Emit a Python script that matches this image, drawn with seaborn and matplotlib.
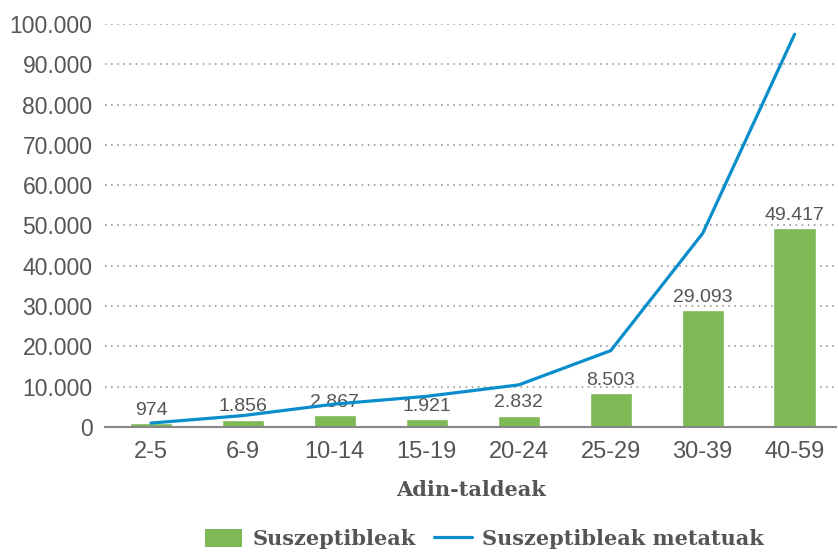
import matplotlib
matplotlib.use("Agg")
import matplotlib.pyplot as plt
import seaborn as sns
import pandas as pd
from matplotlib.patches import Patch
from matplotlib.lines import Line2D
from matplotlib.ticker import FuncFormatter, MultipleLocator

categories = ["2-5", "6-9", "10-14", "15-19", "20-24", "25-29", "30-39", "40-59"]
suszeptibleak = [974, 1856, 2867, 1921, 2832, 8503, 29093, 49417]
metatuak = [974, 2830, 5697, 7618, 10450, 18953, 48046, 97463]

GREEN = "#7db954"
BLUE = "#0a8dcb"
GREY = "#555555"

sns.set_style("white")
plt.rcParams["font.family"] = ["Liberation Sans", "DejaVu Sans"]

df = pd.DataFrame({"cat": categories, "sus": suszeptibleak, "met": metatuak})

fig = plt.figure(figsize=(8.38, 5.53), dpi=100)
ax = fig.add_axes([105 / 838, (553 - 427) / 553, (836 - 105) / 838, (427 - 24) / 553])

sns.barplot(data=df, x="cat", y="sus", color=GREEN, width=0.46, saturation=1, ax=ax, zorder=2)
sns.lineplot(data=df, x="cat", y="met", color=BLUE, linewidth=2.3, ax=ax, zorder=4, sort=False)

def fmt(v):
    return f"{int(v):,}".replace(",", ".")

ax.bar_label(ax.containers[0], labels=[fmt(v) for v in suszeptibleak],
             padding=3, fontsize=14, color=GREY, zorder=3)

ax.set_ylim(0, 100000)
ax.set_xlim(-0.5, 7.45)
ax.yaxis.set_major_locator(MultipleLocator(10000))
ax.yaxis.set_major_formatter(FuncFormatter(lambda v, p: fmt(v)))
ax.grid(axis="y", linestyle=(0, (1, 3)), color="#888888", linewidth=1.1, zorder=0)
ax.set_axisbelow(True)

for s in ["top", "right", "left"]:
    ax.spines[s].set_visible(False)
ax.spines["bottom"].set_color("#888888")
ax.spines["bottom"].set_linewidth(1.5)

ax.set_xticks([i - 0.5 for i in range(len(categories))], minor=True)
ax.tick_params(axis="x", which="minor", length=7, width=1.2, color="#888888", direction="out")
ax.tick_params(axis="x", which="major", length=0, labelsize=17, labelcolor=GREY, pad=10)
ax.tick_params(axis="y", length=0, labelsize=16.5, labelcolor=GREY, pad=9)

ax.set_ylabel("")
ax.set_xlabel("Adin-taldeak", fontsize=15, fontweight="bold", color=GREY,
              family=["DejaVu Serif"], labelpad=12)

handles = [Patch(facecolor=GREEN, edgecolor="none"),
           Line2D([0], [0], color=BLUE, linewidth=2.3)]
fig.legend(handles, ["Suszeptibleak", "Suszeptibleak metatuak"], loc="lower center",
           bbox_to_anchor=(0.578, -0.027), ncol=2, frameon=False,
           prop={"family": "DejaVu Serif", "weight": "bold", "size": 15},
           labelcolor=GREY, handlelength=1.8, handleheight=0.9, columnspacing=0.9,
           handletextpad=0.5)

fig.savefig("out.png", dpi=100)
